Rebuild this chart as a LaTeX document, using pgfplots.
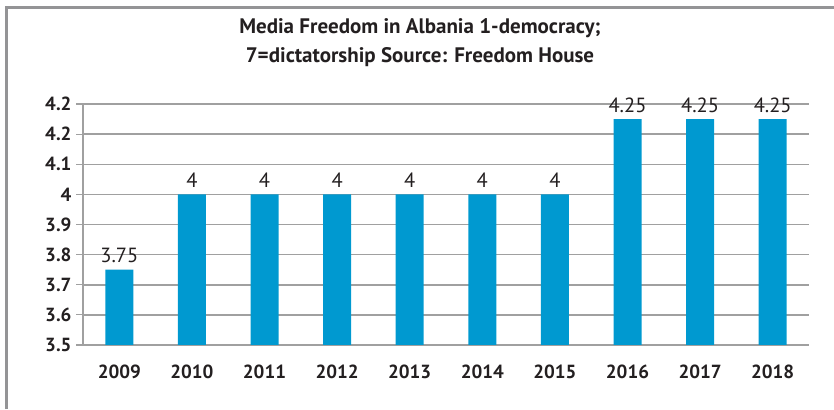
\documentclass[border=0pt]{standalone}
\usepackage{pgfplots}
\pgfplotsset{compat=1.18}
\usepackage{fontspec}
\setmainfont{PT Sans}
\definecolor{barblue}{RGB}{0,153,208}
\definecolor{gridgray}{RGB}{160,160,160}
\definecolor{framegray}{RGB}{148,148,150}
\definecolor{txt}{RGB}{35,31,32}
\begin{document}
\begin{tikzpicture}[x=1pt,y=1pt]
\path[use as bounding box] (0,0) rectangle (834,409);
\draw[framegray, line width=3pt] (6.5,0) -- (6.5,401.5) -- (834,401.5);
\node[font=\bfseries\fontsize{21}{29}\selectfont, text=txt, align=center] at (420,366)
  {Media Freedom in Albania 1-democracy;\\7=dictatorship Source: Freedom House};
\begin{axis}[
  at={(83pt,64pt)}, anchor=south west,
  scale only axis, width=726pt, height=241pt,
  xmin=-0.5, xmax=9.5, ymin=3.5, ymax=4.3,
  axis x line*=bottom, axis y line*=left,
  axis line style={gridgray, line width=1.5pt},
  xtick={0,...,9},
  xticklabels={2009,2010,2011,2012,2013,2014,2015,2016,2017,2018},
  major x tick style={draw=none},
  extra x ticks={-0.5,0.5,...,9.5},
  extra x tick labels={},
  extra x tick style={major tick length=7pt, tick align=outside, tick style={gridgray, line width=1.2pt}, grid=none},
  ytick={3.5,3.6,3.7,3.8,3.9,4.0,4.1,4.2,4.3},
  yticklabels={3.5,3.6,3.7,3.8,3.9,4,4.1,4.2,4.2},
  ymajorgrids, grid style={gridgray, line width=1.5pt},
  major y tick style={gridgray, line width=1.2pt},
  ytick align=outside, major tick length=7pt,
  tick label style={font=\bfseries\fontsize{19}{22}\selectfont, text=txt},
  xticklabel style={yshift=-9pt},
  yticklabel style={xshift=-1pt},
  /pgf/number format/assume math mode=true,
  ybar, bar width=28pt,
  nodes near coords,
  nodes near coords style={font=\fontsize{20.5}{22}\selectfont, text=txt, yshift=3pt},
  point meta=explicit symbolic,
  clip=false,
]
\addplot[fill=barblue, draw=none] coordinates {
  (0,3.75) [3.75] (1,4) [4] (2,4) [4] (3,4) [4] (4,4) [4]
  (5,4) [4] (6,4) [4] (7,4.25) [4.25] (8,4.25) [4.25] (9,4.25) [4.25]
};
\end{axis}
\end{tikzpicture}
\end{document}
